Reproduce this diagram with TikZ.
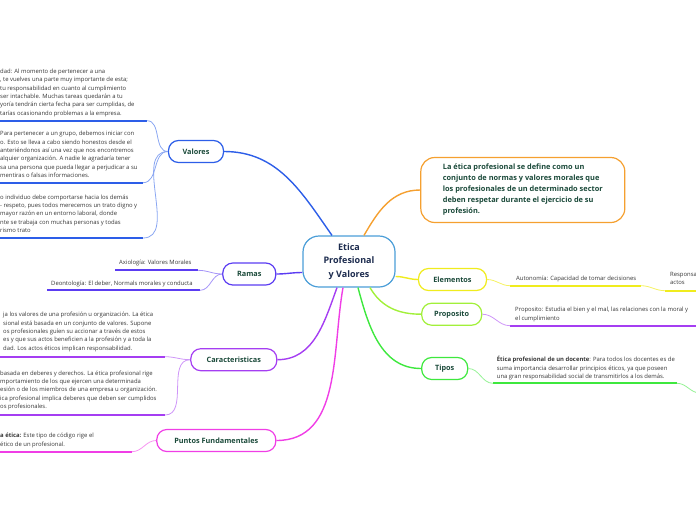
\documentclass[tikz,border=0pt]{standalone}
\usepackage{fontspec}
\setmainfont{Open Sans}
\usepackage{tikz}
\usetikzlibrary{calc}
\definecolor{TitleGreen}{RGB}{27,74,58}
\definecolor{CoreNavy}{RGB}{28,43,78}
\definecolor{CoreBlue}{RGB}{75,158,216}
\definecolor{ValBlue}{RGB}{45,94,232}
\definecolor{RamViolet}{RGB}{91,60,242}
\definecolor{CarPurple}{RGB}{165,62,242}
\definecolor{PfMagenta}{RGB}{240,62,230}
\definecolor{EleYellow}{RGB}{240,236,30}
\definecolor{ProLime}{RGB}{162,240,58}
\definecolor{TipGreen}{RGB}{62,232,62}
\definecolor{DefOrange}{RGB}{245,160,48}
\definecolor{NoteGray}{RGB}{55,55,55}

\begin{document}
\begin{tikzpicture}[
  x=1pt, y=1pt,
  topic/.style={rectangle, rounded corners=10pt, draw, line width=1.2pt, fill=white,
                minimum height=22pt, inner xsep=4pt, text=TitleGreen,
                font=\fontsize{7.3}{9}\selectfont\bfseries},
  core/.style={rectangle, rounded corners=16pt, draw=CoreBlue, line width=1.2pt,
               fill=white, minimum width=92pt, minimum height=51pt, align=center,
               text=CoreNavy, font=\fontsize{9}{13.3}\selectfont\bfseries},
  defbox/.style={rectangle, rounded corners=14pt, draw=DefOrange, line width=1.2pt,
                 fill=white, minimum width=204pt, minimum height=65pt, align=left,
                 text=TitleGreen, font=\fontsize{7.4}{11}\selectfont\bfseries},
  note/.style={anchor=north west, inner sep=0pt, align=left, text=NoteGray,
               font=\fontsize{5.9}{8.3}\selectfont},
  uline/.style={line width=2pt},
  twig/.style={line width=0.8pt},
  branch/.style={line width=1.4pt}
]
\useasboundingbox (0,0) rectangle (696,-520);
\clip (0,0) rectangle (696,-520);

% Central topic and main topics
\node[core] (etica) at (349,-261.5) {Etica\\Profesional\\y Valores};
\node[defbox] (def) at (522.8,-190) {La ética profesional se define como un\\conjunto de normas y valores morales que\\los profesionales de un determinado sector\\deben respetar durante el ejercicio de su\\profesión.};
\node[topic, draw=ValBlue, minimum width=55pt]    (val)   at (196,-151.5)   {Valores};
\node[topic, draw=RamViolet, minimum width=53pt]  (ramas) at (249.3,-274)   {Ramas};
\node[topic, draw=CarPurple, minimum width=86pt]  (car)   at (233.8,-359.7) {Caracteristicas};
\node[topic, draw=PfMagenta, minimum width=119pt] (pf)    at (216.3,-440.5) {Puntos Fundamentales};
\node[topic, draw=EleYellow, minimum width=68pt]  (ele)   at (452.5,-279.5) {Elementos};
\node[topic, draw=ProLime, minimum width=60pt]    (pro)   at (451.7,-314.2) {Proposito};
\node[topic, draw=TipGreen, minimum width=46pt]   (tip)   at (444.7,-368.5) {Tipos};

% Main branches
\draw[branch, ValBlue]   (val.east) to[out=0,in=125] ($(etica.north)+(-17,0)$);
\draw[branch, DefOrange] ($(etica.north)+(15,0)$) to[out=60,in=180] (def.west);
\draw[branch, RamViolet] ($(etica.west)+(0,-11)$) to[out=180,in=0] (ramas.east);
\draw[branch, CarPurple] ($(etica.south)+(-12,0)$) to[out=-110,in=0] (car.east);
\draw[branch, PfMagenta] ($(etica.south)+(-6,0)$) to[out=-100,in=0] (pf.east);
\draw[branch, EleYellow] ($(etica.east)+(0,-15)$) to[out=0,in=180] (ele.west);
\draw[branch, ProLime]   ($(etica.south)+(21,0)$) to[out=-60,in=180] (pro.west);
\draw[branch, TipGreen]  ($(etica.south)+(9,0)$) to[out=-75,in=180] (tip.west);

% Valores
\node[note] (v1) at (0,-69) {dad: Al momento de pertenecer a una\\
, te vuelves una parte muy importante de esta;\\
tu responsabilidad en cuanto al cumplimiento\\
ser intachable. Muchas tareas quedarán a tu\\
yoría tendrán cierta fecha para ser cumplidas, de\\
tarías ocasionando problemas a la empresa.};
\node[note] (v2) at (0,-131.2) {Para pertenecer a un grupo, debemos iniciar con\\
o. Esto se lleva a cabo siendo honestos desde el\\
anteriéndonos así una vez que nos encontremos\\
alquier organización. A nadie le agradaría tener\\
sa una persona que pueda llegar a perjudicar a su\\
mentiras o falsas informaciones.};
\node[note] (v3) at (0,-194.5) {o individuo debe comportarse hacia los demás\\
- respeto, pues todos merecemos un trato digno y\\
mayor razón en un entorno laboral, donde\\
nte se trabaja con muchas personas y todas\\
rismo trato};
\coordinate (v1a) at (0,-120.7);   \coordinate (v1b) at (147,-120.7);
\coordinate (v2a) at (0,-182.7);   \coordinate (v2b) at (143,-182.7);
\coordinate (v3a) at (0,-238);     \coordinate (v3b) at (143,-238);
\draw[uline, ValBlue] (v1a) -- (v1b);
\draw[uline, ValBlue] (v2a) -- (v2b);
\draw[uline, ValBlue] (v3a) -- (v3b);
\draw[twig, ValBlue!55] (v1b) to[out=0,in=180] (val.west);
\draw[twig, ValBlue!55] (v2b) to[out=0,in=180] (val.west);
\draw[twig, ValBlue!55] (v3b) to[out=0,in=180] (val.west);

% Ramas
\node[note, anchor=west] (axi) at (119,-263.3) {Axiología: Valores Morales};
\node[note, anchor=west] (deo) at (51,-284) {Deontología: El deber, Normals morales y conducta};
\coordinate (r1a) at (115,-270.3); \coordinate (r1b) at (198,-270.3);
\coordinate (r2a) at (47,-290.3);  \coordinate (r2b) at (200,-290.3);
\draw[uline, RamViolet] (r1a) -- (r1b);
\draw[uline, RamViolet] (r2a) -- (r2b);
\draw[twig, RamViolet!55] (r1b) to[out=0,in=180] (ramas.west);
\draw[twig, RamViolet!55] (r2b) to[out=0,in=180] (ramas.west);

% Caracteristicas
\node[note] (c1) at (3,-312.2) {ja los valores de una profesión u organización. La ética\\
sional está basada en un conjunto de valores. Supone\\
os profesionales guíen su accionar a través de estos\\
es y que sus actos beneficien a la profesión y a toda la\\
dad. Los actos éticos implican responsabilidad.};
\node[note] (c2) at (0,-370.5) {basada en deberes y derechos. La ética profesional rige\\
mportamiento de los que ejercen una determinada\\
esión o de los miembros de una empresa u organización.\\
ica profesional implica deberes que deben ser cumplidos\\
os profesionales.};
\coordinate (c1a) at (0,-356.7); \coordinate (c1b) at (165,-356.7);
\coordinate (c2a) at (0,-415);   \coordinate (c2b) at (165,-415);
\draw[uline, CarPurple] (c1a) -- (c1b);
\draw[uline, CarPurple] (c2a) -- (c2b);
\draw[twig, CarPurple!55] (c1b) to[out=0,in=180] (car.west);
\draw[twig, CarPurple!55] (c2b) to[out=0,in=180] (car.west);

% Puntos Fundamentales
\node[note] (pft) at (0,-433) {\textbf{a ética:} Este tipo de código rige el\\
ético de un profesional.};
\coordinate (p1a) at (0,-451.7); \coordinate (p1b) at (132,-451.7);
\draw[uline, PfMagenta] (p1a) -- (p1b);
\draw[twig, PfMagenta!55] (p1b) to[out=0,in=180] (pf.west);

% Elementos
\node[note, anchor=west] (aut) at (516,-279) {Autonomía: Capacidad de tomar decisiones};
\node[note] (resp) at (670,-272.2) {Responsa\\actos};
\coordinate (e1a) at (510,-285.7); \coordinate (e1b) at (641,-285.7);
\coordinate (e2a) at (665,-290.7); \coordinate (e2b) at (696,-290.7);
\draw[uline, EleYellow] (e1a) -- (e1b);
\draw[uline, EleYellow] (e2a) -- (e2b);
\draw[twig, EleYellow!70] (ele.east) to[out=0,in=180] (e1a);
\draw[twig, EleYellow!70] (e1b) to[out=0,in=180] (e2a);

% Proposito
\node[note] (prt) at (515,-307.2) {Proposito: Estudia el bien y el mal, las relaciones con la moral y\\el cumplimiento};
\coordinate (pr1a) at (510,-325.7); \coordinate (pr1b) at (696,-325.7);
\draw[uline, CarPurple] (pr1a) -- (pr1b);
\draw[twig, CarPurple!55] (pro.east) to[out=0,in=180] (pr1a);

% Tipos
\node[note] (tipt) at (496.7,-356.2) {\textbf{Ética profesional de un docente}: Para todos los docentes es de\\
suma importancia desarrollar principios éticos, ya que poseen\\
una gran responsabilidad social de transmitirlos a los demás.};
\coordinate (t1a) at (493,-383.3); \coordinate (t1b) at (677,-383.3);
\coordinate (t2a) at (700,-393);
\draw[uline, TipGreen] (t1a) -- (t1b);
\draw[twig, TipGreen!55] (tip.east) to[out=0,in=180] (t1a);
\draw[twig, TipGreen!55] (t1b) to[out=0,in=180] (t2a);

\end{tikzpicture}
\end{document}
